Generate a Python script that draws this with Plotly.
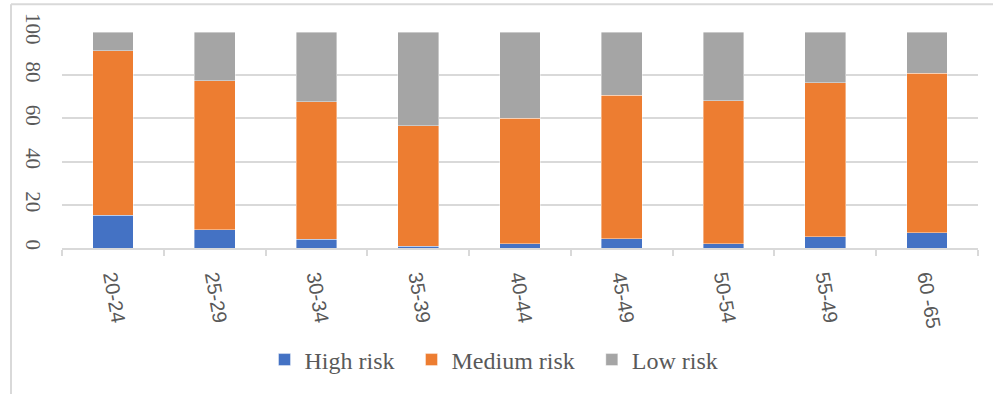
import plotly.graph_objects as go

categories = ["20-24", "25-29", "30-34", "35-39", "40-44", "45-49", "50-54", "55-49", "60 -65"]
high_risk = [15.1, 8.4, 4.1, 0.8, 2.0, 4.4, 2.0, 5.2, 7.0]
medium_risk = [76.3, 69.0, 63.5, 55.9, 58.0, 66.4, 66.2, 71.3, 73.9]
low_risk = [8.6, 22.6, 32.4, 43.3, 40.0, 29.2, 31.8, 23.5, 19.1]
y_ticks = [0, 20, 40, 60, 80, 100]
series_names = ["High risk", "Medium risk", "Low risk"]
series_colors = ["#4472C4", "#ED7D31", "#A5A5A5"]

SERIF = "Liberation Serif"
SANS = "Liberation Sans"

fig = go.Figure()
for name, vals, col in zip(series_names, [high_risk, medium_risk, low_risk], series_colors):
    fig.add_trace(go.Bar(x=categories, y=vals, name=name + "\u00a0\u00a0",
                         marker=dict(color=col, line=dict(color="rgba(255,255,255,0.5)", width=0.8))))

W, H = 993, 394
L, R, T, B = 62, 15, 32, 144
pw, ph = W - L - R, H - T - B

def px_to_paper_x(p):
    return (p - L) / pw

def px_to_paper_y(p):
    return (H - B - p) / ph

fig.update_layout(
    width=W, height=H,
    margin=dict(l=L, r=R, t=T, b=B),
    barmode="stack", bargap=0.6,
    plot_bgcolor="white", paper_bgcolor="white",
    showlegend=True,
    legend=dict(orientation="h", x=px_to_paper_x(500), xanchor="center",
                y=px_to_paper_y(363), yanchor="middle",
                font=dict(family=SERIF, size=24, color="#595959"),
                traceorder="normal"),
    xaxis=dict(type="category", tickson="boundaries", ticks="outside", ticklen=6,
               tickcolor="#d9d9d9", tickwidth=1.5,
               showline=True, linecolor="#d9d9d9", linewidth=1.5,
               tickangle=80, ticklabelstandoff=8,
               tickfont=dict(family=SANS, size=20, color="#595959"),
               showgrid=False),
    yaxis=dict(range=[0, 100], tickvals=y_ticks, showgrid=True, gridcolor="#d9d9d9",
               gridwidth=1.5, zeroline=False, showline=False, tickangle=90,
               tickfont=dict(family=SERIF, size=21, color="#595959"),
               ticklabelstandoff=14),
    shapes=[dict(type="line", xref="paper", yref="paper",
                 x0=px_to_paper_x(11), x1=px_to_paper_x(11),
                 y0=px_to_paper_y(4), y1=px_to_paper_y(400),
                 line=dict(color="#d9d9d9", width=2)),
            dict(type="line", xref="paper", yref="paper",
                 x0=px_to_paper_x(11), x1=px_to_paper_x(1000),
                 y0=px_to_paper_y(4), y1=px_to_paper_y(4),
                 line=dict(color="#d9d9d9", width=2))],
)

fig.write_html("out.html", config={"displayModeBar": False},
               post_script="document.body.style.margin='0';document.body.style.overflow='hidden';")
